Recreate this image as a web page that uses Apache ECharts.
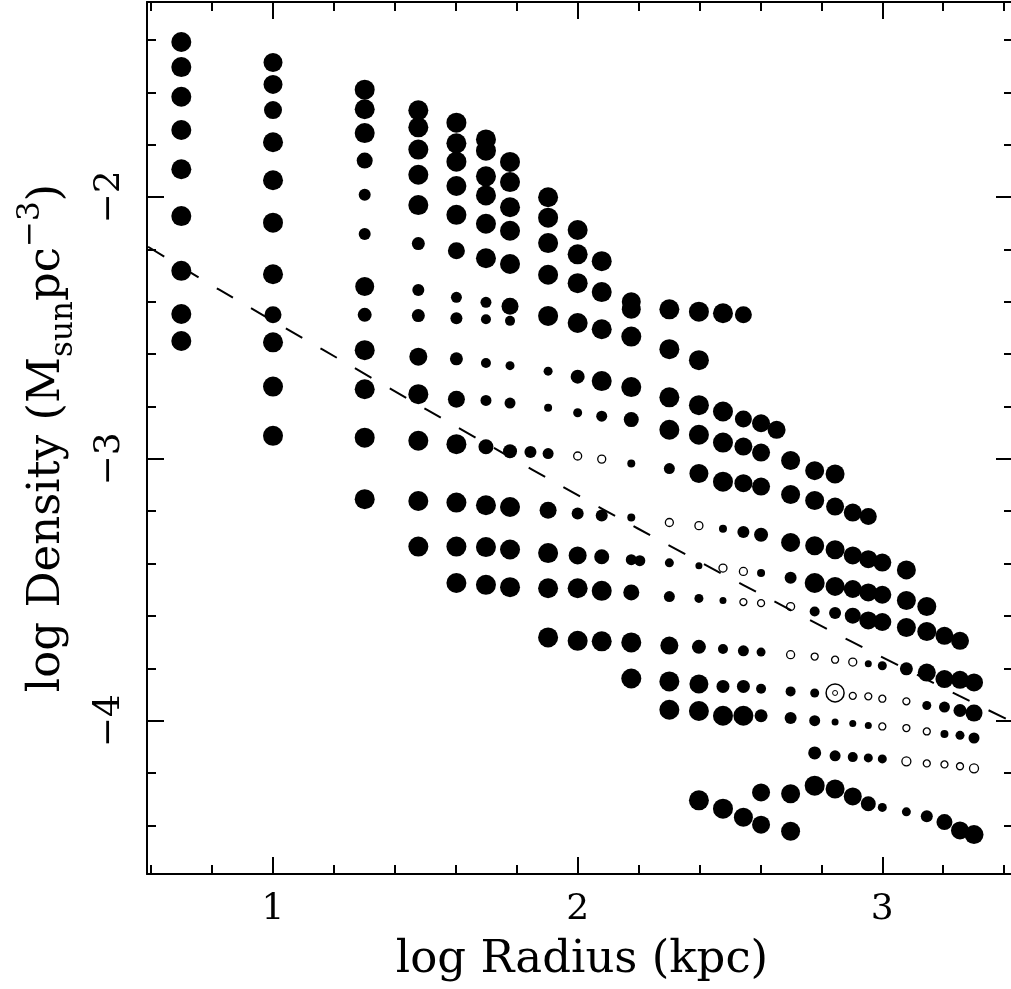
<!DOCTYPE html>
<html>
<head>
<meta charset="utf-8">
<script src="https://cdn.jsdelivr.net/npm/echarts@6/dist/echarts.min.js"></script>
<style>
  html, body { margin: 0; padding: 0; background: #fff; overflow: hidden; }
  #chart { width: 1011px; height: 989px; }
</style>
</head>
<body>
<div id="chart"></div>
<script>
// filled points: [log R, log density, weight]  (columns are log10 of 5,10,20 ... 2000 kpc)
var filledPts = [
  [0.699,-1.408,10],[0.699,-1.504,10],[0.699,-1.617,10],[0.699,-1.744,10],[0.699,-1.894,10],[0.699,-2.073,10],[0.699,-2.282,10],[0.699,-2.447,10],[0.699,-2.550,10],
  [1.0,-1.486,9.5],[1.0,-1.570,9.5],[1.0,-1.668,9],[1.0,-1.791,10],[1.0,-1.936,10],[1.0,-2.098,10],[1.0,-2.295,10],[1.0,-2.450,8.5],[1.0,-2.555,10],[1.0,-2.724,10],[1.0,-2.912,10],
  [1.301,-1.590,10],[1.301,-1.665,10],[1.301,-1.756,10],[1.301,-1.861,8],[1.301,-1.991,6],[1.301,-2.141,6],[1.301,-2.342,9.5],[1.301,-2.450,7],[1.301,-2.585,10],[1.301,-2.734,10],[1.301,-2.919,10],[1.301,-3.154,10],
  [1.477,-1.669,10],[1.477,-1.734,10],[1.477,-1.819,10],[1.477,-1.915,10],[1.477,-2.031,10],[1.477,-2.178,6.5],[1.477,-2.355,6],[1.477,-2.453,6.5],[1.477,-2.610,9],[1.477,-2.753,10],[1.477,-2.931,10],[1.477,-3.161,10],[1.477,-3.335,10],
  [1.602,-1.716,10],[1.602,-1.795,10],[1.602,-1.865,10],[1.602,-1.958,10],[1.602,-2.068,10],[1.602,-2.205,8.5],[1.602,-2.383,5.5],[1.602,-2.463,6],[1.602,-2.618,6.5],[1.602,-2.772,8.5],[1.602,-2.944,10],[1.602,-3.167,10],[1.602,-3.335,10],[1.602,-3.474,10],
  [1.699,-1.780,10],[1.699,-1.823,10],[1.699,-1.921,10],[1.699,-1.994,10],[1.699,-2.102,10],[1.699,-2.234,10],[1.699,-2.402,5.5],[1.699,-2.467,5],[1.699,-2.634,5],[1.699,-2.777,5.5],[1.699,-2.954,7.5],[1.699,-3.177,10],[1.699,-3.337,10],[1.699,-3.481,10],
  [1.778,-1.866,10],[1.778,-1.943,10],[1.778,-2.039,10],[1.778,-2.129,10],[1.778,-2.256,10],[1.778,-2.417,8.5],[1.778,-2.473,5],[1.778,-2.644,4.5],[1.778,-2.787,5.5],[1.778,-2.971,7],[1.778,-3.184,10],[1.778,-3.346,10],[1.778,-3.490,10],
  [1.845,-2.974,6],
  [1.903,-2.001,10],[1.903,-2.079,10],[1.903,-2.176,10],[1.903,-2.297,10],[1.903,-2.454,10],[1.903,-2.665,4.5],[1.903,-2.805,4],[1.903,-2.980,5.5],[1.903,-3.196,8.5],[1.903,-3.360,10],[1.903,-3.494,10],[1.903,-3.682,10],
  [2.0,-2.126,10],[2.0,-2.219,10],[2.0,-2.329,10],[2.0,-2.481,10],[2.0,-2.686,7],[2.0,-2.824,4.5],[2.0,-3.209,6],[2.0,-3.369,9],[2.0,-3.494,10],[2.0,-3.695,10],
  [2.079,-2.245,10],[2.079,-2.363,10],[2.079,-2.505,10],[2.079,-2.703,10],[2.079,-2.837,5.5],[2.079,-3.216,6],[2.079,-3.374,7.5],[2.079,-3.504,10],[2.079,-3.697,10],
  [2.176,-2.400,9.5],[2.176,-2.429,9.5],[2.176,-2.533,10],[2.176,-2.726,10],[2.176,-2.850,7.5],[2.176,-3.018,4],[2.176,-3.224,4],[2.176,-3.385,5.5],[2.176,-3.510,8],[2.176,-3.701,10],[2.176,-3.839,10],
  [2.204,-3.389,5.5],
  [2.301,-2.429,10],[2.301,-2.581,10],[2.301,-2.765,10],[2.301,-2.889,10],[2.301,-3.037,5.5],[2.301,-3.397,4.5],[2.301,-3.526,5.5],[2.301,-3.713,9],[2.301,-3.850,10],[2.301,-3.958,10],
  [2.398,-2.438,10],[2.398,-2.623,10],[2.398,-2.795,10],[2.398,-2.908,10],[2.398,-3.056,9.5],[2.398,-3.408,3.5],[2.398,-3.533,4.5],[2.398,-3.718,7],[2.398,-3.860,9.5],[2.398,-3.963,10],[2.398,-4.304,10],
  [2.477,-2.444,10],[2.477,-2.819,10],[2.477,-2.938,10],[2.477,-3.087,10],[2.477,-3.267,4],[2.477,-3.541,3.5],[2.477,-3.726,5],[2.477,-3.869,6.5],[2.477,-3.981,10],[2.477,-4.336,10],
  [2.544,-2.450,8.5],[2.544,-2.848,8.5],[2.544,-2.953,9],[2.544,-3.093,9],[2.544,-3.279,6],[2.544,-3.733,5.5],[2.544,-3.869,6.5],[2.544,-3.981,10],[2.544,-4.369,9.5],
  [2.602,-2.864,9],[2.602,-2.976,9],[2.602,-3.106,9],[2.602,-3.290,7],[2.602,-3.436,4],[2.602,-3.738,4.5],[2.602,-3.878,5],[2.602,-3.981,6.5],[2.602,-4.274,9],[2.602,-4.397,9],
  [2.653,-2.889,9],
  [2.699,-3.006,9.5],[2.699,-3.136,9.5],[2.699,-3.319,9.5],[2.699,-3.454,6],[2.699,-3.888,5],[2.699,-3.990,6],[2.699,-4.279,9.5],[2.699,-4.422,9.5],
  [2.778,-3.045,9.5],[2.778,-3.159,9.5],[2.778,-3.332,9.5],[2.778,-3.474,10],[2.778,-3.583,5],[2.778,-3.894,4.5],[2.778,-4.000,5.5],[2.778,-4.123,6.5],[2.778,-4.248,10],
  [2.845,-3.058,9.5],[2.845,-3.182,9],[2.845,-3.347,9.5],[2.845,-3.487,9.5],[2.845,-3.589,6],[2.845,-4.005,3.5],[2.845,-4.134,5.5],[2.845,-4.261,9.5],
  [2.903,-3.205,9],[2.903,-3.369,9],[2.903,-3.497,9],[2.903,-3.599,8],[2.903,-4.011,3.5],[2.903,-4.139,5],[2.903,-4.289,9],
  [2.954,-3.220,8.5],[2.954,-3.383,9],[2.954,-3.510,9],[2.954,-3.617,9],[2.954,-3.782,3.5],[2.954,-4.018,3.5],[2.954,-4.142,4.5],[2.954,-4.317,7.5],
  [3.0,-3.396,9],[3.0,-3.519,9],[3.0,-3.623,9],[3.0,-3.790,4.5],[3.0,-4.146,4.5],[3.0,-4.331,4.5],
  [3.079,-3.424,9.5],[3.079,-3.541,9.5],[3.079,-3.644,9.5],[3.079,-3.802,6.5],[3.079,-4.348,4.5],
  [3.146,-3.564,9.5],[3.146,-3.659,9.5],[3.146,-3.816,9],[3.146,-3.942,4.5],[3.146,-4.365,6],
  [3.204,-3.676,9],[3.204,-3.841,9],[3.204,-3.948,5.5],[3.204,-4.051,4],[3.204,-4.387,8],
  [3.255,-3.695,9],[3.255,-3.844,9],[3.255,-3.961,6.5],[3.255,-4.056,4.5],[3.255,-4.419,9],
  [3.301,-3.854,9],[3.301,-3.971,8.5],[3.301,-4.066,5.5],[3.301,-4.435,9.5]
];

// open (hollow) points
var openPts = [
  [2.0,-2.989,4],[2.079,-3.001,4],[2.301,-3.243,4],[2.398,-3.255,4],[2.477,-3.417,4],
  [2.544,-3.430,4],[2.544,-3.547,3.5],[2.602,-3.551,3.5],[2.699,-3.564,4],[2.699,-3.748,4],
  [2.778,-3.755,3.5],[2.845,-3.767,3.5],[2.903,-3.776,4],[2.903,-3.905,3.5],[2.954,-3.907,3.5],
  [3.0,-3.916,3.5],[3.0,-4.022,3.5],[3.079,-3.926,3.5],[3.079,-4.028,3.5],[3.079,-4.155,4.5],
  [3.146,-4.041,3.5],[3.146,-4.163,3.5],[3.204,-4.167,3.5],[3.255,-4.174,3.5],[3.301,-4.182,4.5]
];

// the sun symbol point
var sunPt = [[2.845,-3.894]];

// dashed model curve
var modelCurve = [
  [0.590,-2.190],[0.825,-2.355],[1.162,-2.582],[1.506,-2.813],[1.849,-3.040],
  [2.196,-3.265],[2.544,-3.482],[2.896,-3.696],[3.253,-3.905],[3.440,-4.012]
];

var xMajor = [1, 2, 3];
var xMinor = [0.6, 0.8, 1.2, 1.4, 1.6, 1.8, 2.2, 2.4, 2.6, 2.8, 3.2, 3.4];
var yMajor = [-4, -3, -2];
var yMinor = [-4.4, -4.2, -3.8, -3.6, -3.4, -3.2, -2.8, -2.6, -2.4, -2.2, -1.8, -1.6, -1.4];

var X_MIN = 0.5864, X_MAX = 3.4421;
var Y_MIN = -4.5854, Y_MAX = -1.2553;
var FONT = 'DejaVu Serif';

function minusFmt(v){ return String(v).replace('-', '\u2212'); }

function tickAxis(pos, vals, len, extra){
  var isX = (pos === 'top' || pos === 'bottom');
  var a = {
    type: 'value', position: pos, gridIndex: 0,
    min: isX ? X_MIN : Y_MIN, max: isX ? X_MAX : Y_MAX,
    axisLine: { show: false, onZero: false },
    axisTick: { show: true, inside: true, length: len, customValues: vals, lineStyle: { color: '#000', width: 2 } },
    axisLabel: { show: false },
    splitLine: { show: false }
  };
  return Object.assign(a, extra || {});
}

function frameLine(){ return { show: true, onZero: false, lineStyle: { color: '#000', width: 2 } }; }

var chart = echarts.init(document.getElementById('chart'), null, { renderer: 'canvas' });

chart.setOption({
  animation: false,
  backgroundColor: '#fff',
  // right frame lies past the canvas edge (the original is cropped there), so no auto fitting
  grid: { show: false, left: 147, top: 2, width: 870, height: 872, outerBoundsMode: 'none', containLabel: false },
  xAxis: [
    tickAxis('bottom', xMajor, 17, {
      axisLine: frameLine(),
      axisLabel: { show: true, customValues: xMajor, margin: 18, fontFamily: FONT, fontSize: 36, color: '#000' },
      name: 'log Radius (kpc)', nameLocation: 'middle', nameGap: 64,
      nameTextStyle: { fontFamily: FONT, fontSize: 45, color: '#000' }
    }),
    tickAxis('bottom', xMinor, 9),
    tickAxis('top', xMajor, 17, { axisLine: frameLine() }),
    tickAxis('top', xMinor, 9)
  ],
  yAxis: [
    tickAxis('left', yMajor, 17, {
      axisLine: frameLine(),
      axisLabel: { show: true, customValues: yMajor, rotate: 90, margin: 19, fontFamily: FONT, fontSize: 36, color: '#000', formatter: minusFmt },
      name: '{n|log Density (M}{s|sun}{n|pc}{p|\u22123}{n|)}',
      nameLocation: 'middle', nameGap: 68, nameRotate: 90,
      nameTextStyle: {
        fontFamily: FONT, fontSize: 45, color: '#000',
        rich: {
          n: { fontFamily: FONT, fontSize: 45, lineHeight: 64, verticalAlign: 'middle', color: '#000' },
          s: { fontFamily: FONT, fontSize: 31, lineHeight: 30, verticalAlign: 'bottom', color: '#000' },
          p: { fontFamily: FONT, fontSize: 31, lineHeight: 30, verticalAlign: 'top', color: '#000' }
        }
      }
    }),
    tickAxis('left', yMinor, 9),
    tickAxis('right', yMajor, 21),
    tickAxis('right', yMinor, 13)
  ],
  series: [
    {
      type: 'line', data: modelCurve, smooth: 0.3, symbol: 'none', silent: true, z: 1,
      xAxisIndex: 0, yAxisIndex: 0,
      lineStyle: { color: '#000', width: 2, type: [19, 21] }
    },
    {
      type: 'scatter', data: filledPts, xAxisIndex: 0, yAxisIndex: 0, z: 3,
      symbol: 'circle', symbolSize: function(v){ return v[2] * 2; },
      itemStyle: { color: '#000', opacity: 1 }
    },
    {
      type: 'scatter', data: openPts, xAxisIndex: 0, yAxisIndex: 0, z: 3,
      symbol: 'circle', symbolSize: function(v){ return v[2] * 2; },
      itemStyle: { color: 'rgba(0,0,0,0)', borderColor: '#000', borderWidth: 1.3, opacity: 1 }
    },
    {
      type: 'scatter', data: sunPt, xAxisIndex: 0, yAxisIndex: 0, z: 3,
      symbol: 'circle', symbolSize: 18,
      itemStyle: { color: 'rgba(0,0,0,0)', borderColor: '#000', borderWidth: 1.5, opacity: 1 }
    },
    {
      type: 'scatter', data: sunPt, xAxisIndex: 0, yAxisIndex: 0, z: 3,
      symbol: 'circle', symbolSize: 5,
      itemStyle: { color: 'rgba(0,0,0,0)', borderColor: '#000', borderWidth: 1, opacity: 1 }
    }
  ]
});
</script>
</body>
</html>
